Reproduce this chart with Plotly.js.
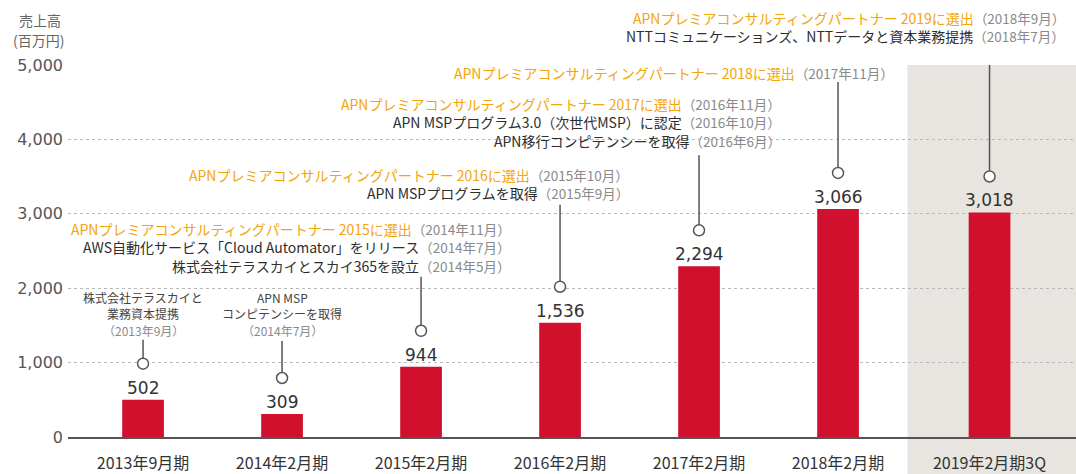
<!DOCTYPE html>
<html>
<head>
<meta charset="utf-8">
<script src="https://cdn.plot.ly/plotly-3.0.1.min.js"></script>
<style>html,body{margin:0;padding:0;background:#fff;}#chart{width:1076px;height:474px;}</style>
</head>
<body>
<div id="chart"></div>
<script>
// ---- data ----
const categories = ['2013年9月期','2014年2月期','2015年2月期','2016年2月期','2017年2月期','2018年2月期','2019年2月期3Q'];
const sales = [502, 309, 944, 1536, 2294, 3066, 3018];
const yTicks = [0, 1000, 2000, 3000, 4000, 5000];
const yTickLabels = ['0', '1,000', '2,000', '3,000', '4,000', '5,000'];
const yTitle = ['売上高', '(百万円)'];

// milestone texts: [main text, date, style]; O = orange, K = dark, S = small
const events2013 = [['株式会社テラスカイと','', 'S'], ['業務資本提携','', 'S'], ['','（2013年9月）','S']];
const events2014 = [['APN MSP','', 'S'], ['コンピテンシーを取得','', 'S'], ['','（2014年7月）','S']];
const events2015 = [
  ['APNプレミアコンサルティングパートナー 2015に選出', '（2014年11月）', 'O'],
  ['AWS自動化サービス「Cloud Automator」をリリース', '（2014年7月）', 'K'],
  ['株式会社テラスカイとスカイ365を設立', '（2014年5月）', 'K']
];
const events2016 = [
  ['APNプレミアコンサルティングパートナー 2016に選出', '（2015年10月）', 'O'],
  ['APN MSPプログラムを取得', '（2015年9月）', 'K']
];
const events2017 = [
  ['APNプレミアコンサルティングパートナー 2017に選出', '（2016年11月）', 'O'],
  ['APN MSPプログラム3.0（次世代MSP）に認定', '（2016年10月）', 'K'],
  ['APN移行コンピテンシーを取得', '（2016年6月）', 'K']
];
const events2018 = [
  ['APNプレミアコンサルティングパートナー 2018に選出', '（2017年11月）', 'O']
];
const events2019 = [
  ['APNプレミアコンサルティングパートナー 2019に選出', '（2018年9月）', 'O'],
  ['NTTコミュニケーションズ、NTTデータと資本業務提携', '（2018年7月）', 'K']
];

// ---- layout helpers ----
const W = 1076, H = 474;
const M = {l: 68, r: 0, t: 65, b: 37};
const PW = W - M.l - M.r, PH = H - M.t - M.b;
const px = x => (x - M.l) / PW;          // pixel -> paper x
const py = y => (H - M.b - y) / PH;      // pixel -> paper y

const xpos = categories.map((c, i) => i + (i === categories.length - 1 ? 0.09 : 0));
const stemLen = [60, 73, 90, 118, 111, 127, 162];

const ORANGE = '#f4a40c', DARK = '#2e2e2e', GRAY = '#8a8a8a';
const CJK = '"Noto Sans CJK JP", "Noto Sans", sans-serif';
const NUM = '"DejaVu Sans", sans-serif';

const annotations = [];

// axis title
annotations.push({xref:'paper', yref:'paper', x: px(40), y: py(20), text: yTitle[0], showarrow:false,
  xanchor:'center', yanchor:'middle', font:{family:CJK, size:14, color:'#666'}});
annotations.push({xref:'paper', yref:'paper', x: px(38), y: py(40), text: yTitle[1], showarrow:false,
  xanchor:'center', yanchor:'middle', font:{family:CJK, size:14, color:'#666'}});

// bar value labels
sales.forEach((v, i) => {
  annotations.push({xref:'x', yref:'y', x: xpos[i], y: v, text: v.toLocaleString('en-US'),
    showarrow:false, xanchor:'center', yanchor:'bottom', yshift: 0,
    font:{family:NUM, size:17, color:'#333'}});
});

function lineText(main, date, style) {
  if (style === 'S') {
    if (main) return '<span style="color:#444">' + main + '</span>';
    return '<span style="color:' + GRAY + '">' + date + '</span>';
  }
  const col = style === 'O' ? ORANGE : DARK;
  return '<span style="color:' + col + '">' + main + '</span><span style="color:' + GRAY + ';font-size:13.5px">' + date + '</span>';
}

function addGroup(lines, xPix, yPixs, anchor, size) {
  lines.forEach((ln, k) => {
    annotations.push({xref:'paper', yref:'paper', x: px(xPix), y: py(yPixs[k]),
      text: lineText(ln[0], ln[1], ln[2]), showarrow:false, xanchor: anchor, yanchor:'middle',
      borderpad:0, font:{family:CJK, size: size, color: DARK}});
  });
}

addGroup(events2013, 143, [297, 313, 330], 'center', 12);
addGroup(events2014, 282, [297, 313, 330], 'center', 12);
addGroup(events2015, 512, [228.5, 247, 265.5], 'right', 14);
addGroup(events2016, 630, [174.5, 193], 'right', 14);
addGroup(events2017, 782, [103.5, 122, 140.5], 'right', 14);
addGroup(events2018, 895, [73], 'right', 14);
addGroup(events2019, 1066, [17.5, 36], 'right', 14);

// shapes
const shapes = [];
shapes.push({type:'rect', xref:'x', yref:'paper', x0: 5.5, x1: 6.712, y0: -0.2, y1: 1,
  fillcolor:'#e8e5e1', line:{width:0}, layer:'below'});
sales.forEach((v, i) => {
  shapes.push({type:'line', xref:'x', yref:'y', ysizemode:'pixel', yanchor: v,
    x0: xpos[i], x1: xpos[i], y0: 41.5, y1: stemLen[i], line:{color:'#555', width:1.5}});
  shapes.push({type:'circle', xref:'x', yref:'y', xsizemode:'pixel', ysizemode:'pixel',
    xanchor: xpos[i], yanchor: v, x0: -5.5, x1: 5.5, y0: 30.5, y1: 41.5,
    line:{color:'#555', width:1.5}, fillcolor:'#fff'});
});

const trace = {
  type:'bar', x: xpos, y: sales, width: 0.3,
  marker:{color:'#d0102c', line:{width:0}},
  hoverinfo:'skip'
};

const layout = {
  width: W, height: H,
  margin: M,
  paper_bgcolor:'#fff', plot_bgcolor:'rgba(0,0,0,0)',
  showlegend:false,
  xaxis:{
    range:[-0.54, 6.712], tickmode:'array', tickvals: xpos, ticktext: categories,
    showgrid:false, zeroline:false, showline:true, linecolor:'#555', linewidth:2,
    ticks:'outside', ticklen:11, tickcolor:'rgba(0,0,0,0)',
    tickfont:{family:CJK, size:16, color:'#333'}, automargin:false, fixedrange:true
  },
  yaxis:{
    range:[0, 5000], tickmode:'array', tickvals: yTicks, ticktext: yTickLabels,
    showgrid:true, gridcolor:'#b8b8b8', griddash:'dot', gridwidth:1,
    zeroline:false, showline:false, ticks:'', ticklabelstandoff: 4,
    tickfont:{family:NUM, size:16, color:'#555'}, automargin:false, fixedrange:true
  },
  annotations: annotations,
  shapes: shapes
};

Plotly.newPlot('chart', [trace], layout, {displayModeBar:false, staticPlot:true});
</script>
</body>
</html>
